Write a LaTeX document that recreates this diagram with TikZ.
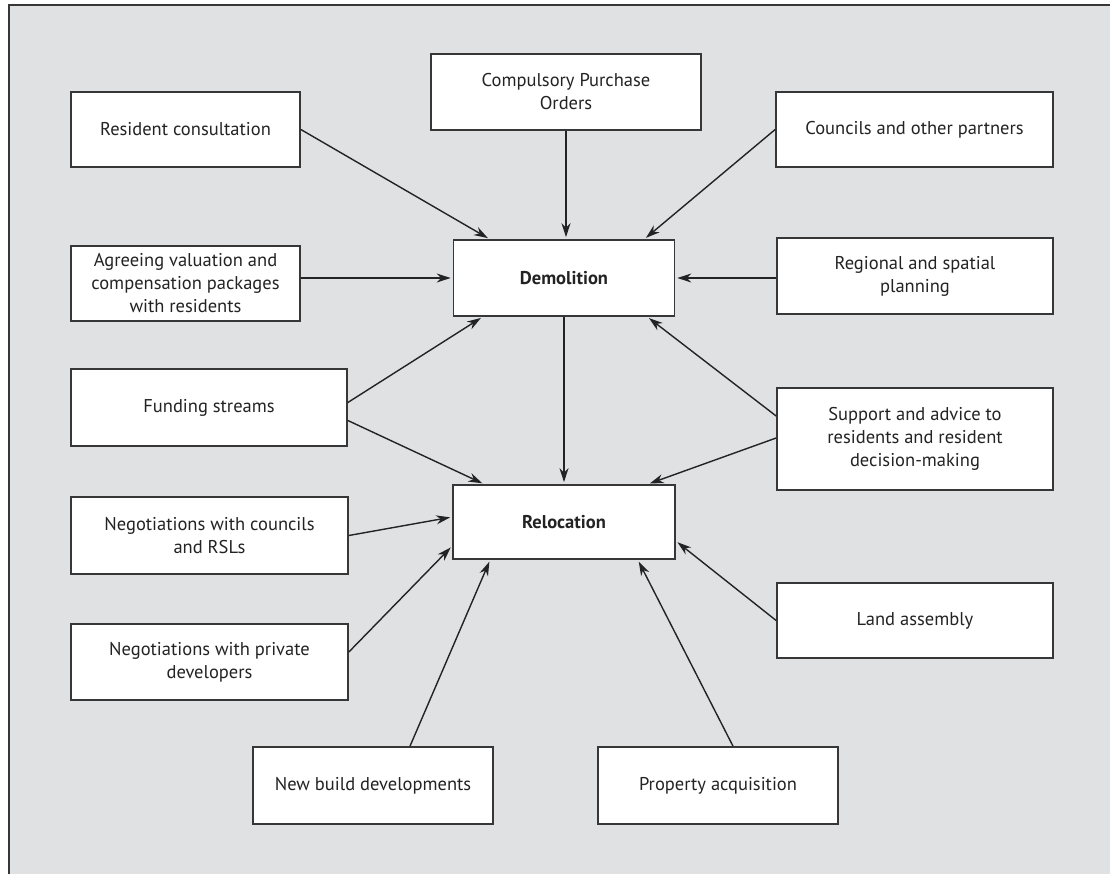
\documentclass[tikz,border=0pt]{standalone}
\usepackage{fontspec}
\setmainfont{PT Sans}
\usetikzlibrary{arrows.meta,calc}
\definecolor{bggray}{RGB}{224,225,227}
\definecolor{edge}{RGB}{55,55,55}
\definecolor{ink}{RGB}{35,35,35}
\begin{document}
\begin{tikzpicture}[x=1pt,y=1pt,
  box/.style={draw=edge, line width=1.7pt, fill=white, inner sep=0pt, align=center,
    text=ink, font=\fontsize{18.5}{23}\selectfont},
  bbox/.style={box, font=\fontsize{18.5}{23}\selectfont\bfseries},
  arr/.style={draw=ink, line width=1.4pt, shorten >=2pt,
    -{Stealth[length=14pt,width=9pt,inset=4.5pt]}}]
\useasboundingbox (0,0) rectangle (1110,-874);
\fill[bggray] (9,-5) rectangle (1110,-874);
\draw[edge, line width=1.8pt] (1110,-5) -- (9,-5) -- (9,-874);

\node[box, minimum width=229pt, minimum height=75pt] (rc) at (185.5,-129.5) {Resident consultation};
\node[box, minimum width=270pt, minimum height=76pt] (cpo) at (566,-92) {Compulsory Purchase\\Orders};
\node[box, minimum width=277pt, minimum height=75pt] (cop) at (914.5,-129.5) {Councils and other partners};
\node[box, minimum width=229pt, minimum height=75pt] (agr) at (185.5,-283.5) {Agreeing valuation and\\compensation packages\\with residents};
\node[bbox, minimum width=221pt, minimum height=76pt] (dem) at (564,-278) {Demolition};
\node[box, minimum width=276pt, minimum height=76pt] (rsp) at (915,-276) {Regional and spatial\\planning};
\node[box, minimum width=276pt, minimum height=77pt] (fs) at (209,-407.5) {Funding streams};
\node[box, minimum width=276pt, minimum height=102pt] (sup) at (915,-439) {Support and advice to\\residents and resident\\decision-making};
\node[bbox, minimum width=222pt, minimum height=74pt] (rel) at (564,-522) {Relocation};
\node[box, minimum width=277pt, minimum height=77pt] (nc) at (209.5,-535.5) {Negotiations with councils\\and RSLs};
\node[box, minimum width=277pt, minimum height=76pt] (np) at (209.5,-662) {Negotiations with private\\developers};
\node[box, minimum width=276pt, minimum height=75pt] (la) at (915,-620.5) {Land assembly};
\node[box, minimum width=240pt, minimum height=77pt] (nb) at (373,-785.5) {New build developments};
\node[box, minimum width=240pt, minimum height=77pt] (pa) at (718,-785.5) {Property acquisition};

\draw[arr] (rc.east) -- ([xshift=37pt]dem.north west);
\draw[arr] (cpo.south) -- (cpo.south |- dem.north);
\draw[arr] (cop.west) -- ([xshift=-31pt]dem.north east);
\draw[arr] (agr.east |- dem.west) -- (dem.west);
\draw[arr] (rsp.west |- dem.east) -- (dem.east);
\draw[arr] ([yshift=5pt]fs.east) -- ([xshift=30pt]dem.south west);
\draw[arr] ([yshift=-13pt]fs.east) -- ([xshift=32pt]rel.north west);
\draw[arr] (dem.south) -- (dem.south |- rel.north);
\draw[arr] ([yshift=23pt]sup.west) -- ([xshift=-28pt]dem.south east);
\draw[arr] ([yshift=1pt]sup.west) -- ([xshift=-28pt]rel.north east);
\draw[arr] (nc.east) -- ([yshift=5pt]rel.west);
\draw[arr] ([yshift=10pt]np.east) -- ([yshift=-24pt]rel.west);
\draw[arr] ([xshift=37pt]nb.north) -- ([xshift=38pt]rel.south west);
\draw[arr] ([xshift=15pt]pa.north) -- ([xshift=-38pt]rel.south east);
\draw[arr] (la.west) -- ([yshift=-19pt]rel.east);
\end{tikzpicture}
\end{document}
